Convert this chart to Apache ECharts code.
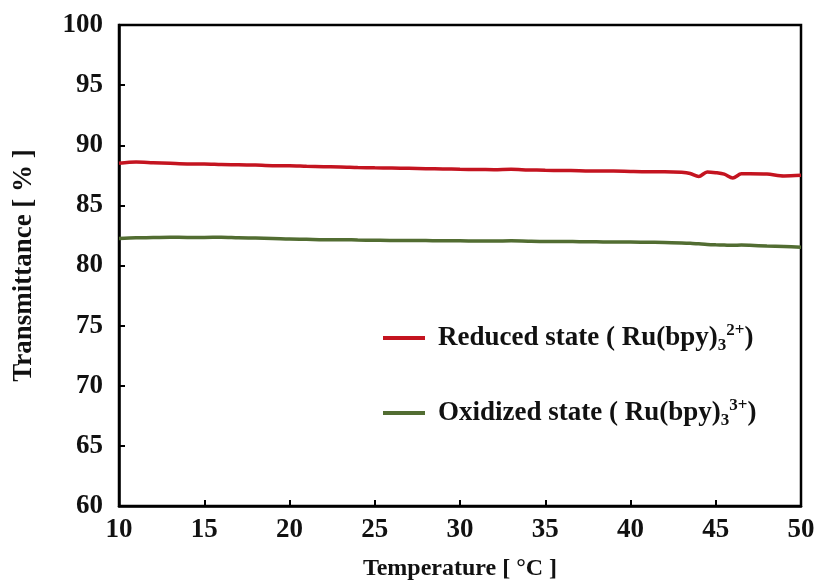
<!DOCTYPE html>
<html>
<head>
<meta charset="utf-8">
<script src="https://cdn.jsdelivr.net/npm/echarts@6/dist/echarts.min.js"></script>
<style>
html,body{margin:0;padding:0;background:#fff;}
#chart{width:820px;height:586px;}
</style>
</head>
<body>
<div id="chart"></div>
<script>
const temperature = [10, 11, 12, 13, 14, 15, 16, 17, 18, 19, 20, 21, 22, 23, 24, 25, 26, 27, 28, 29, 30, 31, 32, 33, 34, 35, 36, 37, 38, 39, 40, 41, 42, 43, 43.5, 44, 44.5, 45, 45.5, 46, 46.5, 47, 48, 49, 50];
const reducedState = [88.5, 88.6, 88.55, 88.5, 88.45, 88.45, 88.4, 88.38, 88.35, 88.3, 88.3, 88.25, 88.22, 88.2, 88.15, 88.12, 88.1, 88.08, 88.05, 88.03, 88.0, 87.98, 87.97, 88.0, 87.95, 87.92, 87.9, 87.88, 87.85, 87.85, 87.82, 87.8, 87.8, 87.75, 87.65, 87.4, 87.78, 87.72, 87.6, 87.28, 87.62, 87.62, 87.6, 87.45, 87.5];
const oxidizedState = [82.25, 82.3, 82.32, 82.35, 82.33, 82.33, 82.35, 82.3, 82.28, 82.25, 82.2, 82.18, 82.15, 82.15, 82.12, 82.1, 82.08, 82.08, 82.07, 82.05, 82.05, 82.03, 82.03, 82.05, 82.02, 82.0, 82.0, 81.98, 81.97, 81.95, 81.95, 81.93, 81.92, 81.88, 81.85, 81.8, 81.75, 81.72, 81.7, 81.68, 81.7, 81.68, 81.62, 81.58, 81.52];
const seriesNames = ['Reduced state ( Ru(bpy)3 2+)', 'Oxidized state ( Ru(bpy)3 3+)'];
const legendLabels = ['{n|Reduced state ( Ru(bpy)}{sub|3}{sup|2+}{n|)}', '{n|Oxidized state ( Ru(bpy)}{sub|3}{sup|3+}{n|)}'];

const FONT = '"Liberation Serif", "Times New Roman", serif';
const chart = echarts.init(document.getElementById('chart'));
const pair = (xs, ys) => xs.map((x, i) => [x, ys[i]]);

chart.setOption({
  animation: false,
  backgroundColor: '#fff',
  grid: { left: 119, right: 19, top: 25, bottom: 77, show: true, borderColor: '#000', borderWidth: 2.5 },
  xAxis: {
    type: 'value', min: 10, max: 50, interval: 5,
    name: 'Temperature [ °C ]', nameLocation: 'middle', nameGap: 51,
    nameTextStyle: { fontFamily: FONT, fontWeight: 'bold', fontSize: 24, color: '#111' },
    axisLine: { lineStyle: { color: '#000', width: 2.5 } },
    axisTick: { inside: true, length: 6, lineStyle: { color: '#000', width: 2 } },
    axisLabel: { fontFamily: FONT, fontWeight: 'bold', fontSize: 27, color: '#111', margin: 11 },
    splitLine: { show: false }
  },
  yAxis: {
    type: 'value', min: 60, max: 100, interval: 5,
    name: 'Transmittance [ % ]', nameLocation: 'middle', nameGap: 81,
    nameTextStyle: { fontFamily: FONT, fontWeight: 'bold', fontSize: 27, color: '#111' },
    axisLine: { lineStyle: { color: '#000', width: 2.5 } },
    axisTick: { inside: true, length: 6, lineStyle: { color: '#000', width: 2 } },
    axisLabel: { fontFamily: FONT, fontWeight: 'bold', fontSize: 27, color: '#111', margin: 16 },
    splitLine: { show: false }
  },
  legend: {
    orient: 'vertical', left: 378, top: 317, itemGap: 43,
    icon: 'rect', itemWidth: 42, itemHeight: 4,
    formatter: name => legendLabels[seriesNames.indexOf(name)],
    textStyle: {
      fontFamily: FONT, fontWeight: 'bold', fontSize: 27, color: '#111', padding: [0, 0, 0, 8],
      rich: {
        n: { fontFamily: FONT, fontWeight: 'bold', fontSize: 27, color: '#111', lineHeight: 32 },
        sub: { fontFamily: FONT, fontWeight: 'bold', fontSize: 17, color: '#111', lineHeight: 18, verticalAlign: 'bottom' },
        sup: { fontFamily: FONT, fontWeight: 'bold', fontSize: 17, color: '#111', lineHeight: 25, verticalAlign: 'top' }
      }
    },
    data: seriesNames
  },
  series: [
    { name: seriesNames[0], type: 'line', showSymbol: false, smooth: 0.3, data: pair(temperature, reducedState), color: '#c41420', lineStyle: { width: 3.5, color: '#c41420' } },
    { name: seriesNames[1], type: 'line', showSymbol: false, smooth: 0.3, data: pair(temperature, oxidizedState), color: '#526d32', lineStyle: { width: 3.5, color: '#526d32' } }
  ]
});
</script>
</body>
</html>
